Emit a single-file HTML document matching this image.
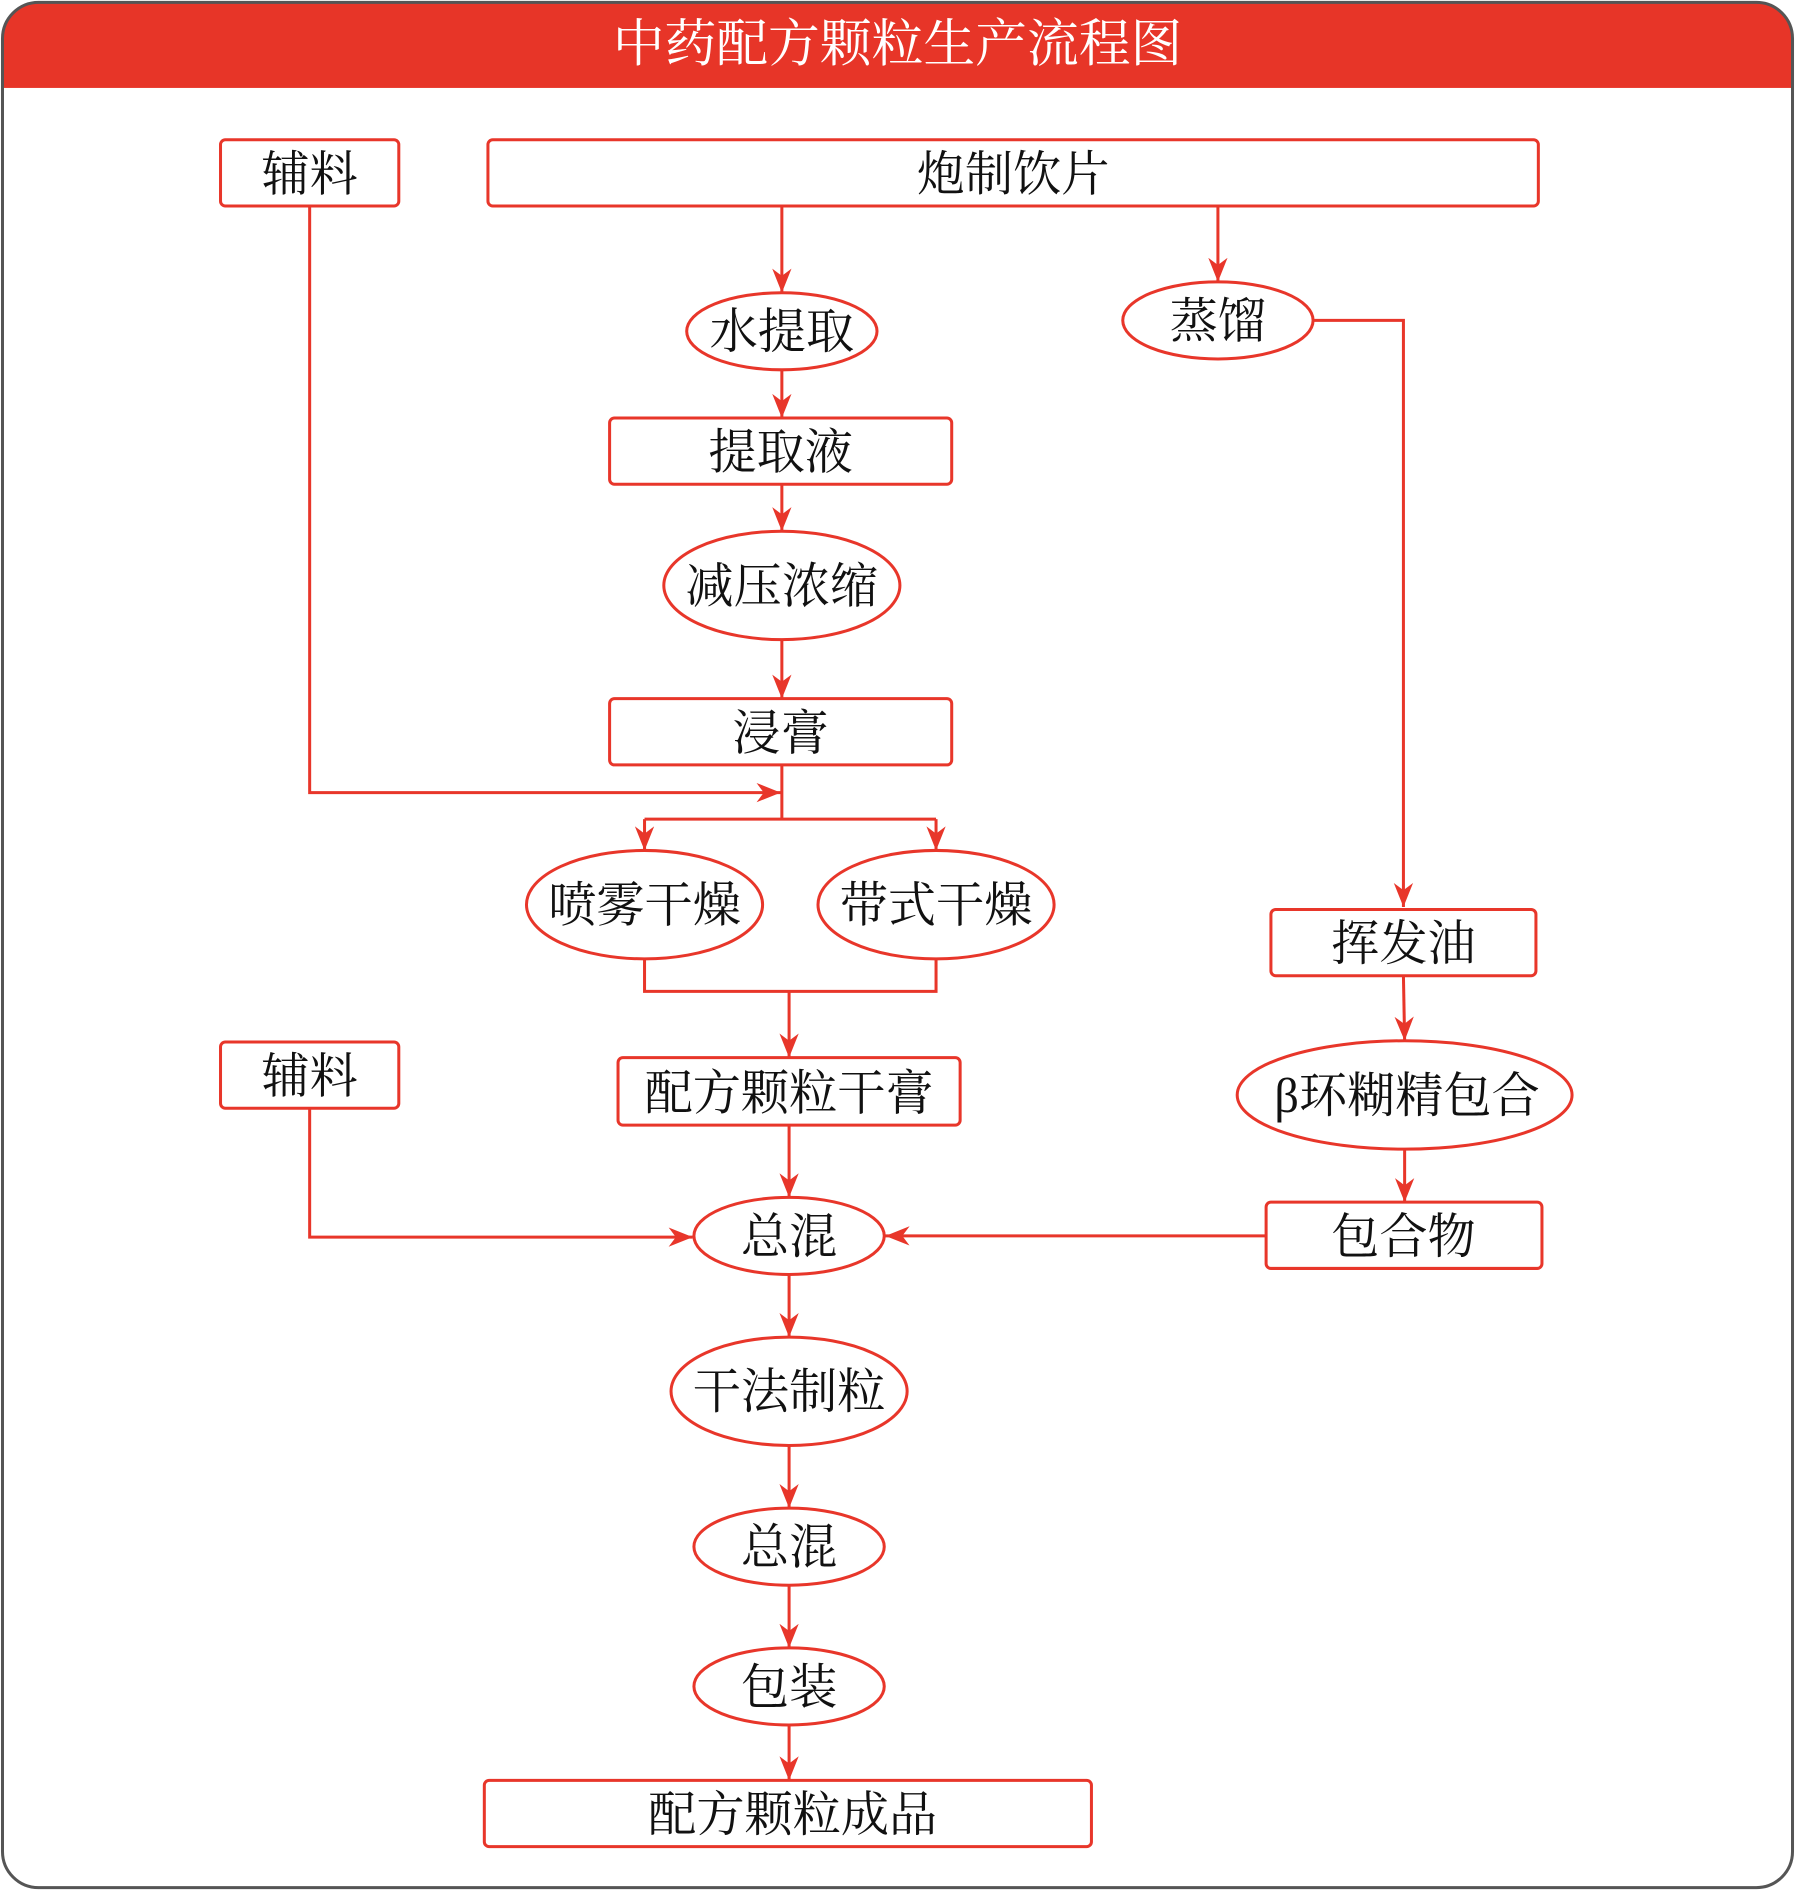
<!DOCTYPE html>
<html><head><meta charset="utf-8"><style>
html,body{margin:0;padding:0;background:#fff;}
svg{display:block;}
text{font-family:"Liberation Serif","Noto Serif CJK SC",serif;fill:#111;}
</style></head><body>
<svg width="1795" height="1890" viewBox="0 0 1490 1569" xmlns="http://www.w3.org/2000/svg">
<defs>
<marker id="a" markerUnits="userSpaceOnUse" markerWidth="24" markerHeight="24" refX="20" refY="10" orient="auto">
<path d="M0,2 L20,10 L0,18 L6,10 Z" fill="#e8362a"/>
</marker>
<clipPath id="cp"><rect x="2" y="2" width="1486" height="1565" rx="30"/></clipPath>
</defs>
<rect x="2" y="2" width="1486" height="1565" rx="30" fill="#fff"/>
<rect x="2" y="2" width="1486" height="71" fill="#e73528" clip-path="url(#cp)"/>
<rect x="2" y="2" width="1486" height="1565" rx="30" fill="none" stroke="#555" stroke-width="2.5"/>
<text x="745" y="51" font-size="43" text-anchor="middle" style="fill:#fff">中药配方颗粒生产流程图</text>

<g fill="none" stroke="#e8362a" stroke-width="2.5">
<path d="M649,171V243" marker-end="url(#a)"/>
<path d="M1011,171V234" marker-end="url(#a)"/>
<path d="M1090,266H1165V753" marker-end="url(#a)"/>
<path d="M649,307V347" marker-end="url(#a)"/>
<path d="M649,402V441" marker-end="url(#a)"/>
<path d="M649,531V580" marker-end="url(#a)"/>
<path d="M257,171V658H648" marker-end="url(#a)"/>
<path d="M649,635V680"/>
<path d="M535,680H777"/>
<path d="M535,680V706" marker-end="url(#a)"/>
<path d="M777,680V706" marker-end="url(#a)"/>
<path d="M535,796V823H777V796"/>
<path d="M655,823V878" marker-end="url(#a)"/>
<path d="M1165,810L1166,864" marker-end="url(#a)"/>
<path d="M1166,954V998" marker-end="url(#a)"/>
<path d="M655,934V994" marker-end="url(#a)"/>
<path d="M257,920V1027H575" marker-end="url(#a)"/>
<path d="M1051,1026H735" marker-end="url(#a)"/>
<path d="M655,1058V1110" marker-end="url(#a)"/>
<path d="M655,1200V1252" marker-end="url(#a)"/>
<path d="M655,1316V1368" marker-end="url(#a)"/>
<path d="M655,1432V1478" marker-end="url(#a)"/>

<rect x="183" y="116" width="148" height="55" rx="4"/>
<rect x="405" y="116" width="872" height="55" rx="4"/>
<ellipse cx="649" cy="275" rx="79" ry="32"/>
<ellipse cx="1011" cy="266" rx="79" ry="32"/>
<rect x="506" y="347" width="284" height="55" rx="4"/>
<ellipse cx="649" cy="486" rx="98" ry="45"/>
<rect x="506" y="580" width="284" height="55" rx="4"/>
<ellipse cx="535" cy="751" rx="98" ry="45"/>
<ellipse cx="777" cy="751" rx="98" ry="45"/>
<rect x="1055" y="755" width="220" height="55" rx="4"/>
<rect x="183" y="865" width="148" height="55" rx="4"/>
<rect x="513" y="878" width="284" height="56" rx="4"/>
<ellipse cx="1166" cy="909" rx="139" ry="45"/>
<ellipse cx="655" cy="1026" rx="79" ry="32"/>
<rect x="1051" y="998" width="229" height="55" rx="4"/>
<ellipse cx="655" cy="1155" rx="98" ry="45"/>
<ellipse cx="655" cy="1284" rx="79" ry="32"/>
<ellipse cx="655" cy="1400" rx="79" ry="32"/>
<rect x="402" y="1478" width="504" height="55" rx="4"/>
</g>

<g font-size="40" text-anchor="middle">
<text x="257" y="158">辅料</text>
<text x="841" y="158">炮制饮片</text>
<text x="649" y="289">水提取</text>
<text x="1011" y="280">蒸馏</text>
<text x="648" y="389">提取液</text>
<text x="649" y="500">减压浓缩</text>
<text x="648" y="622">浸膏</text>
<text x="535" y="765">喷雾干燥</text>
<text x="777" y="765">带式干燥</text>
<text x="1165" y="797">挥发油</text>
<text x="257" y="907">辅料</text>
<text x="655" y="921">配方颗粒干膏</text>
<text x="1168" y="923">β环糊精包合</text>
<text x="655" y="1040">总混</text>
<text x="1165" y="1040">包合物</text>
<text x="655" y="1169">干法制粒</text>
<text x="655" y="1298">总混</text>
<text x="655" y="1414">包装</text>
<text x="658" y="1520">配方颗粒成品</text>
</g>
</svg>
</body></html>
